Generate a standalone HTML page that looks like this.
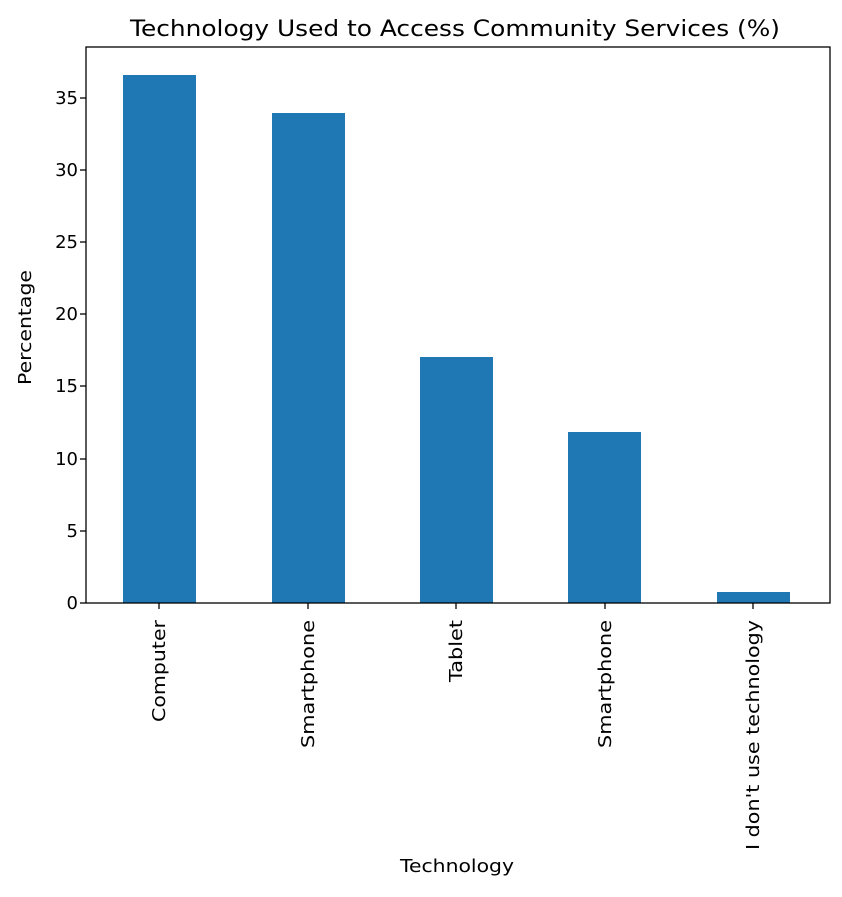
<!DOCTYPE html>
<html><head><meta charset="utf-8"><style>body{margin:0;background:#fff}</style></head><body>
<svg width="842" height="892" xmlns="http://www.w3.org/2000/svg" font-family="DejaVu Sans, Liberation Sans, sans-serif" fill="#000">
<rect width="842" height="892" fill="#fff"/>
<text x="130" y="36" font-size="22" textLength="650" lengthAdjust="spacingAndGlyphs">Technology Used to Access Community Services (%)</text>
<g fill="#1f77b4">
<rect x="123" y="75" width="73" height="528"/>
<rect x="272" y="113" width="73" height="490"/>
<rect x="420" y="357" width="73" height="246"/>
<rect x="568" y="432" width="73" height="171"/>
<rect x="717" y="592" width="73" height="11"/>
</g>
<rect x="86" y="47" width="744" height="556" fill="none" stroke="#000" stroke-width="1.3"/>
<g stroke="#000" stroke-width="1.3">
<line x1="80" y1="603" x2="86" y2="603"/><line x1="80" y1="531" x2="86" y2="531"/>
<line x1="80" y1="459" x2="86" y2="459"/><line x1="80" y1="386" x2="86" y2="386"/>
<line x1="80" y1="314" x2="86" y2="314"/><line x1="80" y1="242" x2="86" y2="242"/>
<line x1="80" y1="170" x2="86" y2="170"/><line x1="80" y1="98" x2="86" y2="98"/>
<line x1="159" y1="603" x2="159" y2="609"/><line x1="308" y1="603" x2="308" y2="609"/>
<line x1="456" y1="603" x2="456" y2="609"/><line x1="605" y1="603" x2="605" y2="609"/>
<line x1="753" y1="603" x2="753" y2="609"/>
</g>
<g font-size="18" text-anchor="end">
<text x="78" y="609">0</text><text x="78" y="537">5</text>
<text x="78" y="465">10</text><text x="78" y="392">15</text>
<text x="78" y="320">20</text><text x="78" y="248">25</text>
<text x="78" y="176">30</text><text x="78" y="104">35</text>
</g>
<g font-size="18">
<text transform="translate(165,722) rotate(-90)" textLength="102" lengthAdjust="spacingAndGlyphs">Computer</text>
<text transform="translate(314,748) rotate(-90)" textLength="128" lengthAdjust="spacingAndGlyphs">Smartphone</text>
<text transform="translate(462,682) rotate(-90)" textLength="62" lengthAdjust="spacingAndGlyphs">Tablet</text>
<text transform="translate(611,748) rotate(-90)" textLength="128" lengthAdjust="spacingAndGlyphs">Smartphone</text>
<text transform="translate(759,850) rotate(-90)" textLength="230" lengthAdjust="spacingAndGlyphs">I don't use technology</text>
</g>
<text x="400" y="872" font-size="18" textLength="114" lengthAdjust="spacingAndGlyphs">Technology</text>
<text transform="translate(31,385) rotate(-90)" font-size="18" textLength="115" lengthAdjust="spacingAndGlyphs">Percentage</text>
</svg>
</body></html>
